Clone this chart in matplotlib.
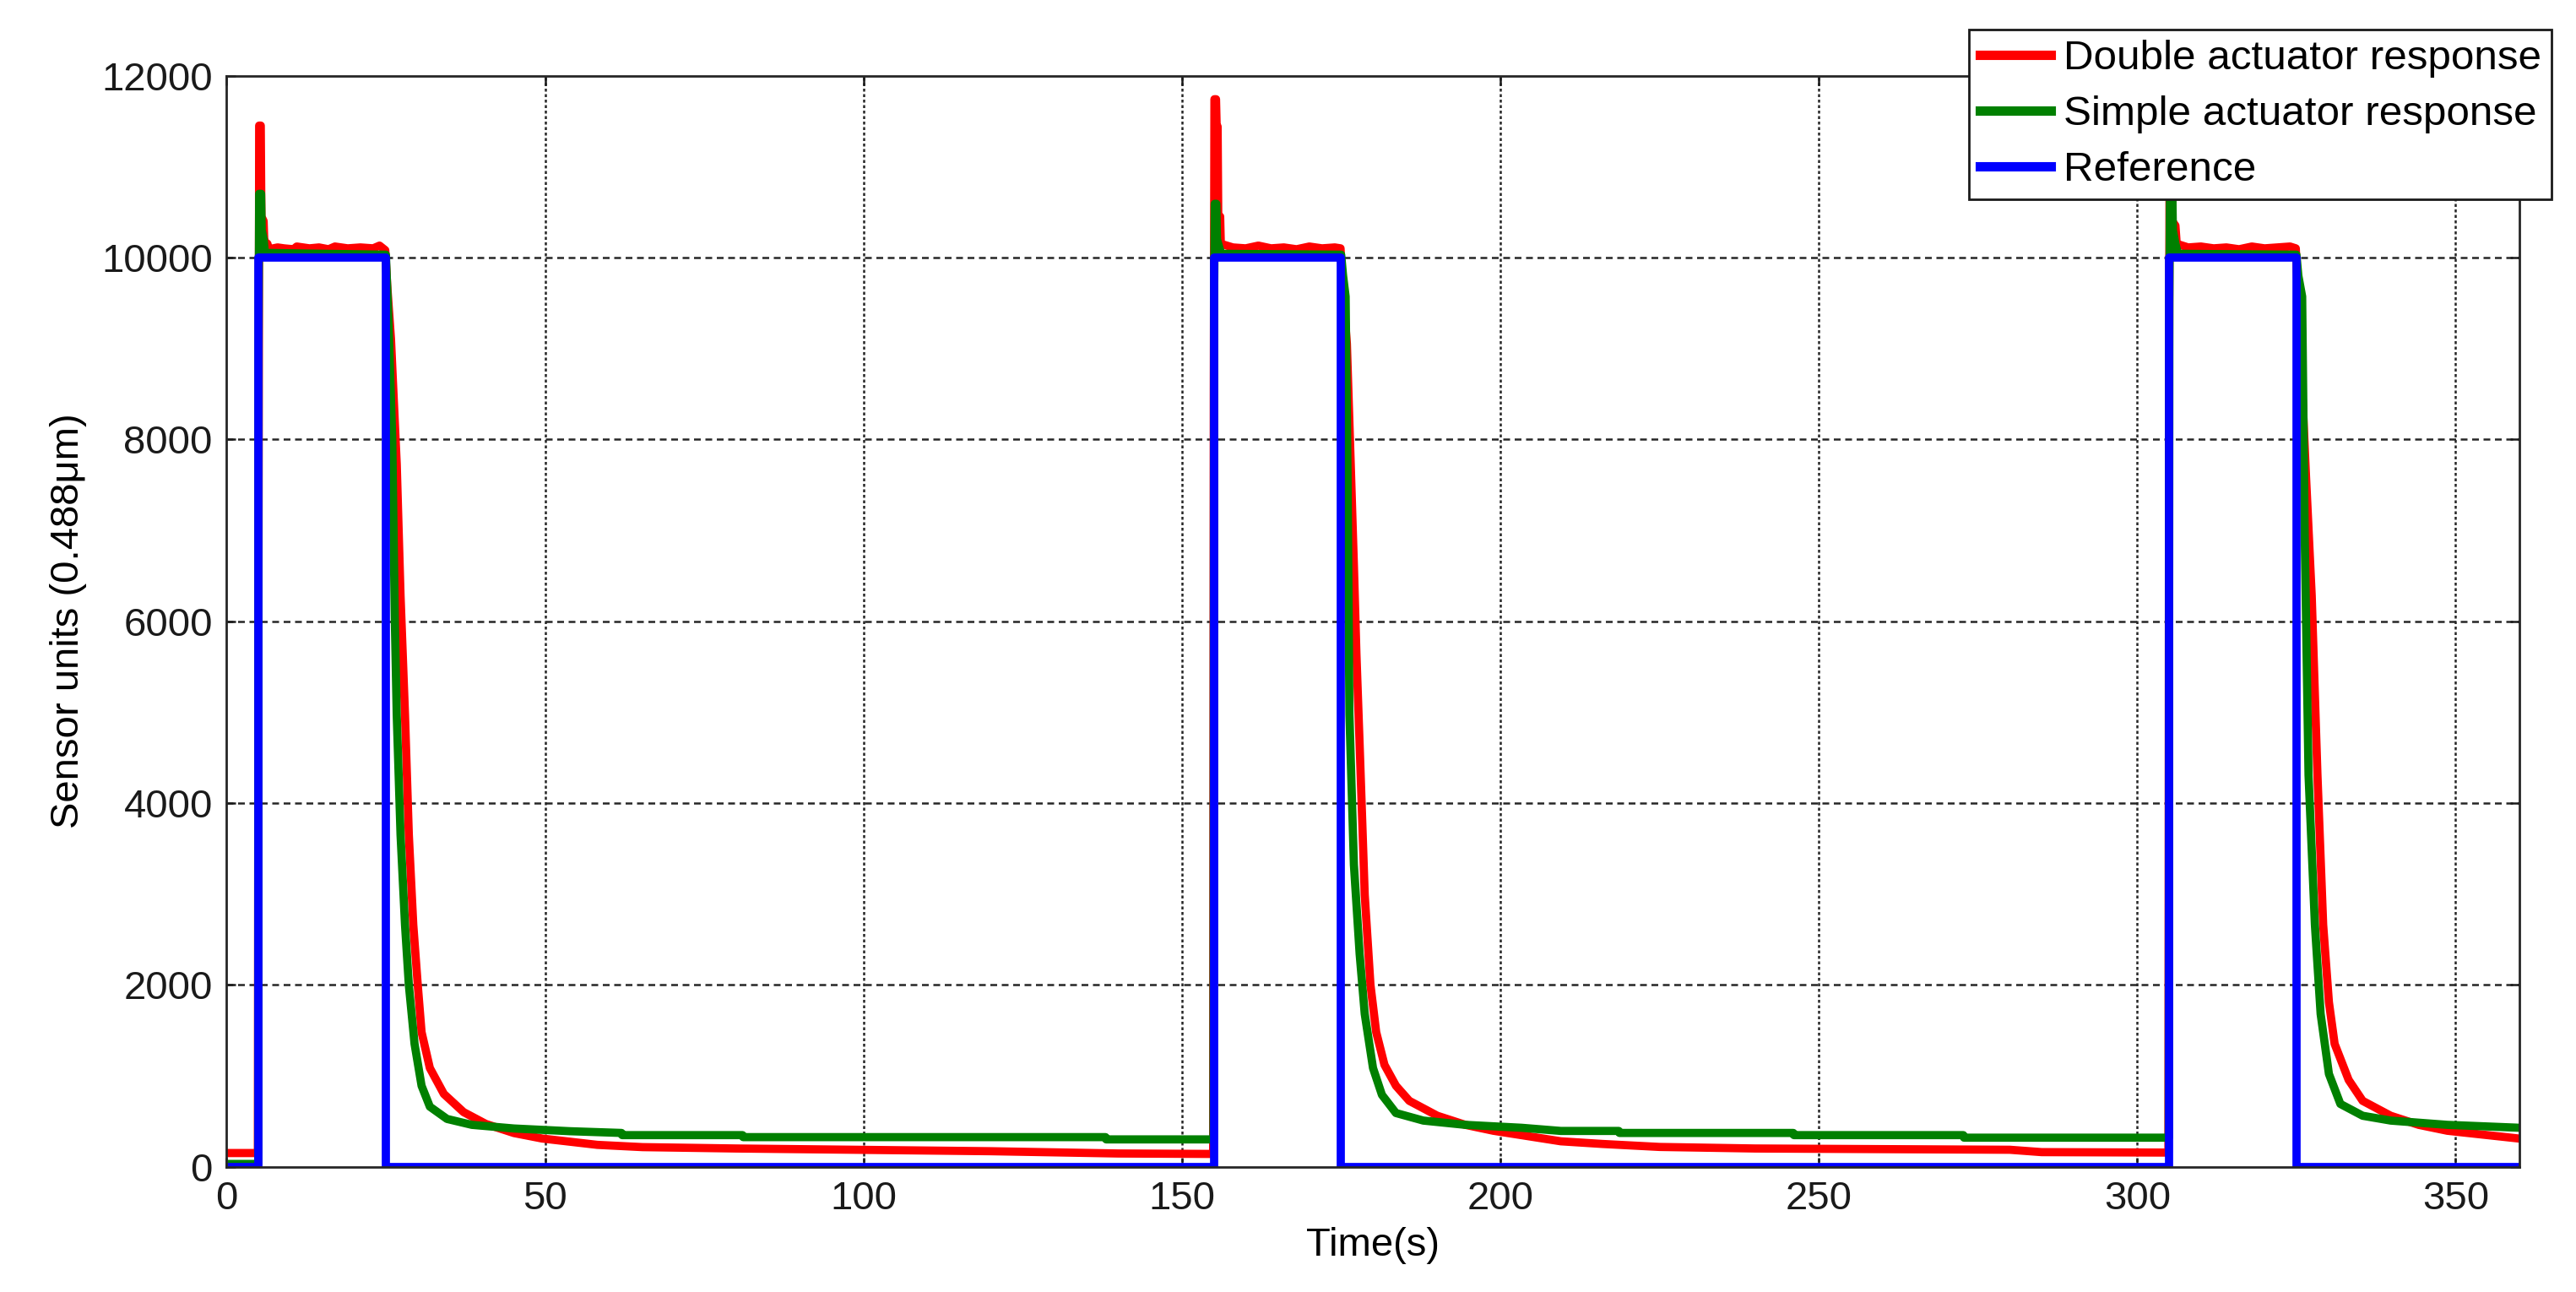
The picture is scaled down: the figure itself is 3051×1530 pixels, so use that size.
import numpy as np
import matplotlib
matplotlib.use("Agg")
import matplotlib.pyplot as plt

# ---------------- data ----------------
# reference step
ref_t = [0, 5, 5, 25, 25, 155, 155, 175, 175, 305, 305, 325, 325, 360]
ref_v = [0, 0, 10000, 10000, 0, 0, 10000, 10000, 0, 0, 10000, 10000, 0, 0]

# double actuator response (red)
double_t = [0, 4.9, 5.0, 5.1, 5.35, 5.45, 5.8, 5.9, 6.4, 6.6, 8, 9, 10.5, 11, 13, 14.5,
            16, 17, 19, 21, 23, 24, 24.9, 25.2, 25.8, 26.7, 27.3, 28.0, 28.6, 29.3,
            30.0, 30.6, 31.9, 34.1, 37.2, 40.7, 45.1, 49.5, 58.2, 65.3, 80, 100, 120,
            140, 154.9,
            155.0, 155.1, 155.35, 155.45, 155.6, 155.7, 156.0, 156.1, 158, 160, 162,
            164, 166, 168, 170, 172, 174, 174.9, 175.2, 175.9, 176.5, 177.0, 177.4,
            177.9, 178.7, 179.6, 180.5, 181.8, 183.6, 185.7, 190.1, 194.5, 198.9,
            209.5, 216, 225, 240, 280, 285, 304.9,
            305.0, 305.1, 305.35, 305.5, 306.0, 306.2, 308, 310, 312, 314, 316, 318,
            320, 322, 324, 324.9, 325.3, 326.5, 327.4, 328.3, 329.2, 330.1, 331.0,
            333.2, 335.4, 339.8, 344.2, 348.7, 360]
double_v = [150, 150, 6700, 11450, 11450, 10450, 10400, 10180, 10150, 10090, 10110, 10100,
            10090, 10120, 10100, 10110, 10090, 10120, 10100, 10110, 10100, 10130, 10080,
            9700, 9100, 7730, 6280, 4970, 3650, 2660, 2000, 1480, 1085, 800, 600, 470,
            370, 310, 240, 215, 200, 185, 170, 145, 140,
            8500, 11740, 11740, 11440, 11440, 10450, 10450, 10150, 10110, 10100, 10130,
            10100, 10110, 10090, 10120, 10100, 10110, 10100, 9700, 9050, 7730, 6610,
            5630, 4640, 2990, 2000, 1480, 1120, 890, 724, 560, 460, 395, 279, 250, 217,
            200, 186, 160, 155,
            8500, 11600, 11600, 10400, 10350, 10150, 10110, 10120, 10100, 10110, 10090,
            10120, 10100, 10110, 10120, 10100, 9500, 7600, 6280, 4310, 2660, 1810, 1350,
            954, 724, 560, 460, 395, 309]

# simple actuator response (green)
simple_t = [0, 4.95, 5.0, 5.1, 5.4, 5.5, 5.8, 6.0, 25.0, 25.3, 26.0, 26.4, 26.7, 27.3,
            28.0, 28.6, 29.5, 30.6, 31.9, 34.6, 38.5, 45.1, 53.9, 62, 62.1, 81, 81.1,
            138, 138.1, 154.95,
            155.05, 155.15, 155.4, 155.5, 155.9, 156.2, 175.0, 175.3, 175.7, 176.0,
            176.3, 177.0, 177.9, 178.7, 180.0, 181.4, 183.6, 187.9, 194.5, 203.3, 209.5,
            218.6, 218.7, 246, 246.1, 272.7, 272.8, 304.95,
            305.05, 305.15, 305.5, 305.6, 306.0, 306.4, 325.0, 325.3, 325.9, 326.3,
            326.9, 327.9, 328.8, 330.1, 331.9, 335.4, 339.8, 348.7, 360]
simple_v = [30, 30, 9000, 10700, 10700, 10300, 10200, 10050, 10030, 9500, 8000, 6020,
            4970, 3650, 2660, 2000, 1350, 890, 660, 525, 460, 420, 390, 371, 347, 347,
            325, 325, 300, 300,
            9500, 10590, 10590, 10200, 10100, 10040, 10030, 9800, 9570, 7600, 4970, 3320,
            2340, 1680, 1085, 790, 590, 507, 460, 428, 393, 393, 371, 371, 347, 347, 319,
            319,
            9500, 10800, 10800, 10300, 10150, 10040, 10030, 9800, 9570, 6940, 4310, 2660,
            1680, 1020, 690, 560, 507, 460, 428]

x_ticks = [0, 50, 100, 150, 200, 250, 300, 350]
y_ticks = [0, 2000, 4000, 6000, 8000, 10000, 12000]

# ---------------- plot ----------------
plt.rcParams['font.family'] = ['Liberation Sans', 'DejaVu Sans']

fig = plt.figure(figsize=(15.255, 7.65), dpi=200)
ax = fig.add_axes([0.088, 0.097, 0.890, 0.8445])

lw = 3.5
ax.plot(double_t, double_v, color='#ff0000', lw=lw, label='Double actuator response')
ax.plot(simple_t, simple_v, color='#008000', lw=lw, label='Simple actuator response')
ax.plot(ref_t, ref_v, color='#0000ff', lw=lw, label='Reference')

ax.set_xlim(0, 360)
ax.set_ylim(0, 12000)
ax.set_xticks(x_ticks)
ax.set_yticks(y_ticks)

# MATLAB-like grid: dashed horizontal, dotted vertical
for yv in y_ticks[1:-1]:
    ax.axhline(yv, color='#262626', lw=0.9, dashes=(3.2, 2.2), zorder=0.5)
for xv in x_ticks[1:]:
    ax.axvline(xv, color='#262626', lw=0.9, dashes=(1.4, 1.2), zorder=0.5)

ax.tick_params(direction='in', length=4, width=0.9, labelsize=17, top=True, right=True,
               colors='#1a1a1a', pad=6)
for sp in ax.spines.values():
    sp.set_color('#262626')
    sp.set_linewidth(1.0)

ax.set_xlabel('Time(s)', fontsize=17, labelpad=4)
ax.set_ylabel('Sensor units (0.488μm)', fontsize=17, labelpad=6)

leg = fig.legend(loc='upper right', bbox_to_anchor=(3022 / 3051, 1 - 35 / 1530),
                 fontsize=17.8, frameon=True, fancybox=False, framealpha=1,
                 edgecolor='#1a1a1a', handlelength=1.7, handletextpad=0.3,
                 borderpad=0.25, labelspacing=0.42, borderaxespad=0)
leg.get_frame().set_linewidth(1.0)
for ln in leg.get_lines():
    ln.set_linewidth(4)

fig.savefig('out.png', dpi=200)
